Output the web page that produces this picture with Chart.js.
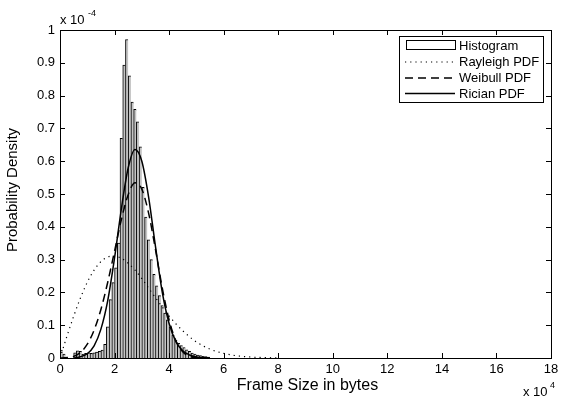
<!DOCTYPE html>
<html><head><meta charset="utf-8">
<script src="https://cdn.jsdelivr.net/npm/chart.js@4/dist/chart.umd.min.js"></script>
<style>html,body{margin:0;padding:0;background:#fff}#wrap{width:576px;height:399px;position:relative}</style>
</head><body><div id="wrap"><canvas id="c" width="576" height="399"></canvas></div>
<script>
// Histogram bins (x in units of 1e4 bytes, density in units of 1e-4)
const binCenters = [0.05,0.15,0.25,0.35,0.45,0.55,0.65,0.75,0.85,0.95,
  1.05,1.15,1.25,1.35,1.45,1.55,1.65,1.75,1.85,1.95,
  2.05,2.15,2.25,2.35,2.45,2.55,2.65,2.75,2.85,2.95,
  3.05,3.15,3.25,3.35,3.45,3.55,3.65,3.75,3.85,3.95,
  4.05,4.15,4.25,4.35,4.45,4.55,4.65,4.75,4.85,4.95,
  5.05,5.15,5.25,5.35,5.45];
const histValues = [0.024,0.012,0,0,0,0.016,0.022,0.02,0.012,0.014,
  0.016,0.014,0.016,0.018,0.02,0.024,0.042,0.095,0.178,0.23,
  0.275,0.35,0.67,0.893,0.971,0.86,0.78,0.758,0.72,0.644,
  0.52,0.43,0.36,0.30,0.255,0.22,0.19,0.16,0.137,0.116,
  0.095,0.07,0.055,0.045,0.038,0.032,0.025,0.02,0.015,0.012,
  0.009,0.007,0.005,0.004,0.003];
const rayleighX = [0,0.25,0.5,0.75,1.0,1.25,1.5,1.75,2.0,2.25,2.5,2.75,3.0,3.5,4.0,4.5,5.0,5.5,6.0,6.5,7.0,7.5,8.0];
const rayleighY = [0,0.065,0.127,0.183,0.231,0.268,0.294,0.308,0.311,0.304,0.289,0.268,0.242,0.184,0.128,0.083,0.049,0.027,0.014,0.0066,0.0029,0.0012,0.0005];
const weibullX = [0,0.5,0.75,1.0,1.25,1.5,1.75,2.0,2.25,2.5,2.75,3.0,3.25,3.5,3.75,4.0,4.25,4.5,4.75,5.0,5.5];
const weibullY = [0,0.005,0.017,0.042,0.085,0.148,0.231,0.326,0.422,0.498,0.534,0.515,0.441,0.331,0.213,0.116,0.052,0.019,0.005,0.001,0];
const ricianX = [0.5,0.75,1.0,1.25,1.5,1.75,2.0,2.25,2.5,2.75,3.0,3.25,3.5,3.75,4.0,4.25,4.5,4.75,5.0,5.5];
const ricianY = [0,0.004,0.013,0.037,0.088,0.175,0.305,0.455,0.58,0.636,0.60,0.49,0.34,0.2,0.105,0.05,0.022,0.009,0.003,0];
const xTicks = [0,2,4,6,8,10,12,14,16,18];
const yTicks = [0,0.1,0.2,0.3,0.4,0.5,0.6,0.7,0.8,0.9,1];
const yTickLabels = ['0','0.1','0.2','0.3','0.4','0.5','0.6','0.7','0.8','0.9','1'];
const legendLabels = ['Histogram','Rayleigh PDF','Weibull PDF','Rician PDF'];
const xTitle = 'Frame Size in bytes';
const yTitle = 'Probability Density';

const FONT = '"Liberation Sans", Arial, sans-serif';
const pts = (xs, ys) => xs.map((x, i) => ({x: x, y: ys[i]}));

const decor = {
  id: 'decor',
  afterDraw(chart) {
    const ctx = chart.ctx, a = chart.chartArea;
    const xs = chart.scales.x, ys = chart.scales.y;
    ctx.save();
    ctx.strokeStyle = '#000'; ctx.lineWidth = 1;
    const L = 5;
    ctx.beginPath();
    xTicks.forEach(v => {
      const px = Math.round(xs.getPixelForValue(v)) + 0.5;
      ctx.moveTo(px, a.bottom); ctx.lineTo(px, a.bottom - L);
      ctx.moveTo(px, a.top); ctx.lineTo(px, a.top + L);
    });
    yTicks.forEach(v => {
      const py = Math.round(ys.getPixelForValue(v)) + 0.5;
      ctx.moveTo(a.left, py); ctx.lineTo(a.left + L, py);
      ctx.moveTo(a.right, py); ctx.lineTo(a.right - L, py);
    });
    ctx.stroke();
    ctx.strokeRect(Math.round(a.left) + 0.5, Math.round(a.top) + 0.5,
      Math.round(a.right - a.left), Math.round(a.bottom - a.top));

    // legend
    const lx = 399.5, ly = 36.5, lw = 144, lh = 66;
    ctx.fillStyle = '#fff';
    ctx.fillRect(lx, ly, lw, lh);
    ctx.strokeRect(lx, ly, lw, lh);
    const rows = [45, 61.5, 77.5, 93];
    const s0 = 405, s1 = 455;
    ctx.strokeRect(s0 + 1.5, rows[0] - 4.5, s1 - s0 - 1, 9);
    chart.data.datasets.forEach((ds, i) => {
      if (i === 0) return;
      ctx.save();
      ctx.lineWidth = ds.borderWidth;
      ctx.setLineDash(ds.borderDash || []);
      ctx.beginPath();
      ctx.moveTo(s0, rows[i] + 0.5); ctx.lineTo(s1, rows[i] + 0.5);
      ctx.stroke();
      ctx.restore();
    });
    ctx.fillStyle = '#000';
    ctx.font = '13px ' + FONT;
    ctx.textBaseline = 'middle'; ctx.textAlign = 'left';
    legendLabels.forEach((t, i) => ctx.fillText(t, 459, rows[i] + 1));

    // axis titles
    ctx.font = '16px ' + FONT;
    ctx.textAlign = 'center'; ctx.textBaseline = 'alphabetic';
    ctx.fillText(xTitle, (a.left + a.right) / 2 + 2, 390);
    ctx.save();
    ctx.translate(17, (a.top + a.bottom) / 2 - 4);
    ctx.rotate(-Math.PI / 2);
    ctx.font = '15px ' + FONT;
    ctx.fillText(yTitle, 0, 0);
    ctx.restore();

    // exponent labels
    ctx.textAlign = 'left';
    ctx.font = '13px ' + FONT;
    ctx.fillText('x 10', 60, 24);
    ctx.font = '9px ' + FONT;
    ctx.fillText('-4', 88, 16);
    ctx.font = '13px ' + FONT;
    ctx.fillText('x 10', 523, 396);
    ctx.font = '9px ' + FONT;
    ctx.fillText('4', 550, 388);
    ctx.restore();
  }
};

new Chart(document.getElementById('c'), {
  type: 'bar',
  data: {
    datasets: [
      { type: 'bar', label: legendLabels[0], data: pts(binCenters, histValues),
        backgroundColor: '#c4c4c4', borderColor: '#000',
        borderWidth: {left: 1, top: 1, right: 0, bottom: 0}, borderSkipped: false,
        barPercentage: 1, categoryPercentage: 1, order: 10 },
      { type: 'line', label: legendLabels[1], data: pts(rayleighX, rayleighY),
        borderColor: '#000', borderWidth: 1.2, borderDash: [1.2, 4], pointRadius: 0,
        cubicInterpolationMode: 'monotone', fill: false, order: 1 },
      { type: 'line', label: legendLabels[2], data: pts(weibullX, weibullY),
        borderColor: '#000', borderWidth: 1.5, borderDash: [8, 5], pointRadius: 0,
        cubicInterpolationMode: 'monotone', fill: false, order: 1 },
      { type: 'line', label: legendLabels[3], data: pts(ricianX, ricianY),
        borderColor: '#000', borderWidth: 1.5, pointRadius: 0,
        cubicInterpolationMode: 'monotone', fill: false, order: 1 }
    ]
  },
  options: {
    responsive: false, animation: false, devicePixelRatio: 1,
    layout: { padding: { top: 30, right: 25, left: 0, bottom: 0 } },
    plugins: { legend: { display: false }, tooltip: { enabled: false }, title: { display: false } },
    scales: {
      x: { type: 'linear', min: 0, max: 18, offset: false,
        grid: { display: false, drawTicks: false }, border: { display: false },
        afterBuildTicks: s => { s.ticks = xTicks.map(v => ({ value: v })); },
        afterFit: s => { s.height = 41; },
        ticks: { color: '#000', font: { family: FONT, size: 13 }, padding: 4, maxRotation: 0, autoSkip: false } },
      y: { type: 'linear', min: 0, max: 1,
        grid: { display: false, drawTicks: false }, border: { display: false },
        afterBuildTicks: s => { s.ticks = yTicks.map(v => ({ value: v })); },
        afterFit: s => { s.width = 60; },
        ticks: { color: '#000', font: { family: FONT, size: 13 }, padding: 5,
          callback: (v, i) => yTickLabels[i] } }
    }
  },
  plugins: [decor]
});
</script></body></html>
